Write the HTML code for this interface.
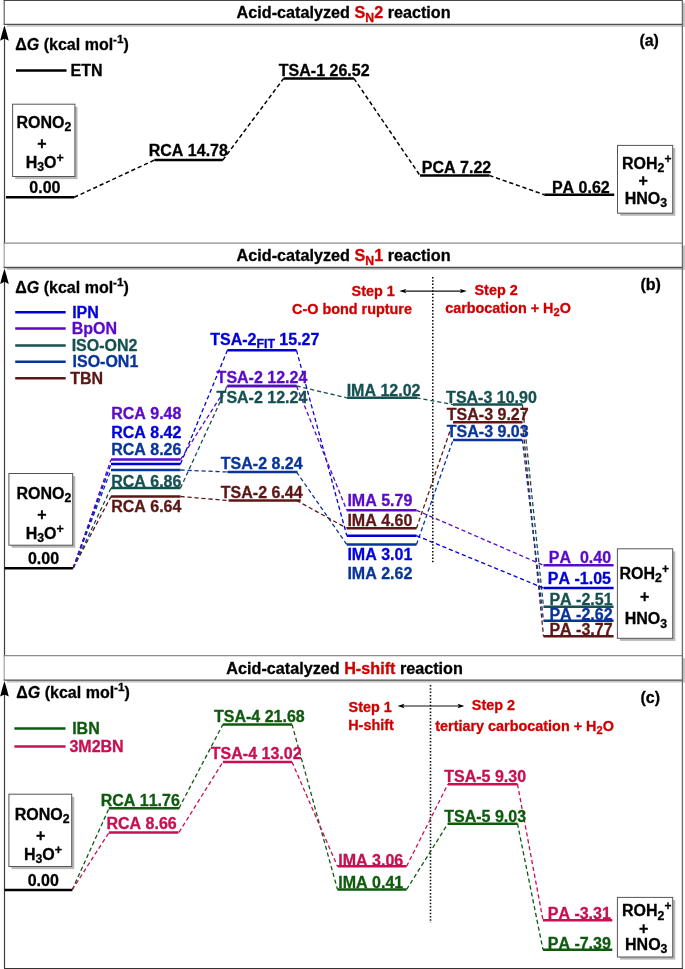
<!DOCTYPE html>
<html><head><meta charset="utf-8"><title>Acid-catalyzed reaction energy profiles</title>
<style>
html,body{margin:0;padding:0;background:#fff;}
body{width:685px;height:969px;overflow:hidden;}
svg{display:block;will-change:transform;}
svg text{font-family:"Liberation Sans",sans-serif;font-weight:bold;font-kerning:none;stroke-width:0.3px;stroke-linejoin:round;}
</style></head><body>
<svg width="685" height="969" viewBox="0 0 685 969">
<rect x="7" y="2.8" width="679" height="23.900000000000002" fill="#c4c4c4"/>
<rect x="4" y="0.4" width="678.4" height="23.900000000000002" fill="#fff"/>
<line x1="4.2" y1="0.4" x2="4.2" y2="24.3" stroke="#555" stroke-width="1.1"/>
<line x1="3.6" y1="0.4" x2="682.4" y2="0.4" stroke="#444" stroke-width="1.3"/>
<line x1="3.6" y1="24.3" x2="682.4" y2="24.3" stroke="#505050" stroke-width="1.3"/>
<text x="236.6" y="18.4" fill="#000" stroke="#000" font-size="16.2" text-anchor="start" >Acid-catalyzed <tspan fill="#d00000" stroke="#d00000">S<tspan font-size="12.3" dy="3.5">N</tspan><tspan dy="-3.5" font-size="16">&#8203;</tspan>2</tspan> reaction</text>
<line x1="4.5" y1="32.3" x2="4.5" y2="243.1" stroke="#3c3c3c" stroke-width="1.2"/>
<path d="M4.45 25.2 Q6.6 32.2 8.8 40.8 L4.45 38.6 L0.1 40.8 Q2.3 32.2 4.45 25.2 Z" fill="#000"/>
<text x="15.35" y="49.5" fill="#000" stroke="#000" font-size="16" text-anchor="start" >&#916;<tspan font-style="italic">G</tspan> (kcal mol<tspan font-size="11.8" dy="-7.0">-1</tspan><tspan dy="7.0" font-size="16">&#8203;</tspan>)</text>
<line x1="16" y1="70.4" x2="66.5" y2="70.4" stroke="#000" stroke-width="2.5"/>
<text x="70.53" y="76.3" fill="#000" stroke="#000" font-size="16" text-anchor="start" >ETN</text>
<rect x="15.2" y="106.8" width="62.300000000000004" height="72.3" fill="#b8b8b8"/>
<rect x="12.6" y="104.2" width="62.300000000000004" height="72.3" fill="#fff" stroke="#555" stroke-width="1"/>
<text x="16.43" y="127.9" fill="#000" stroke="#000" font-size="16" text-anchor="start" >RONO<tspan font-size="12.3" dy="3.5">2</tspan><tspan dy="-3.5" font-size="16">&#8203;</tspan></text>
<text x="42" y="149.3" fill="#000" stroke="#000" font-size="16" text-anchor="middle" >+</text>
<text x="25.63" y="167.9" fill="#000" stroke="#000" font-size="16" text-anchor="start" >H<tspan font-size="12.3" dy="3.5">3</tspan><tspan dy="-3.5" font-size="16">&#8203;</tspan>O<tspan font-size="12.5" dy="-6.0">+</tspan><tspan dy="6.0" font-size="16">&#8203;</tspan></text>
<text x="29.37" y="193.4" fill="#000" stroke="#000" font-size="16" text-anchor="start" >0.00</text>
<line x1="5.9" y1="197.3" x2="74.2" y2="197.3" stroke="#000" stroke-width="2.5"/>
<line x1="74.2" y1="197.3" x2="154.4" y2="160.1" stroke="#000" stroke-width="1.5" stroke-dasharray="4.2 2.8" stroke-dashoffset="0.00"/>
<line x1="154.4" y1="160.1" x2="222.8" y2="160.1" stroke="#000" stroke-width="2.5"/>
<text x="148.73" y="156.2" fill="#000" stroke="#000" font-size="16" text-anchor="start" >RCA 14.78</text>
<line x1="222.8" y1="160.1" x2="283.7" y2="78.4" stroke="#000" stroke-width="1.5" stroke-dasharray="4.2 2.8" stroke-dashoffset="0.00"/>
<line x1="283.7" y1="78.4" x2="353.9" y2="78.4" stroke="#000" stroke-width="2.5"/>
<text x="278.82" y="75.6" fill="#000" stroke="#000" font-size="16" text-anchor="start" >TSA-1 26.52</text>
<line x1="353.9" y1="78.4" x2="420" y2="175.5" stroke="#000" stroke-width="1.5" stroke-dasharray="4.2 2.8" stroke-dashoffset="0.00"/>
<line x1="420" y1="175.5" x2="489.4" y2="175.5" stroke="#000" stroke-width="2.5"/>
<text x="421.83" y="172.5" fill="#000" stroke="#000" font-size="16" text-anchor="start" >PCA 7.22</text>
<line x1="489.4" y1="175.5" x2="544.3" y2="194.7" stroke="#000" stroke-width="1.5" stroke-dasharray="4.2 2.8" stroke-dashoffset="0.00"/>
<line x1="544.3" y1="194.7" x2="614.2" y2="194.7" stroke="#000" stroke-width="2.5"/>
<text x="551.93" y="192.9" fill="#000" stroke="#000" font-size="16" text-anchor="start" >PA 0.62</text>
<rect x="620.1" y="148.0" width="55.200000000000045" height="67.79999999999998" fill="#b8b8b8"/>
<rect x="617.5" y="145.4" width="55.200000000000045" height="67.79999999999998" fill="#fff" stroke="#555" stroke-width="1"/>
<text x="622.03" y="168.6" fill="#000" stroke="#000" font-size="16" text-anchor="start" >ROH<tspan font-size="12.3" dy="3.5">2</tspan><tspan dy="-3.5" font-size="16">&#8203;</tspan><tspan font-size="12.0" dy="-6.0">+</tspan><tspan dy="6.0" font-size="16">&#8203;</tspan></text>
<text x="643.1" y="186.2" fill="#000" stroke="#000" font-size="16" text-anchor="middle" >+</text>
<text x="624.63" y="203.8" fill="#000" stroke="#000" font-size="16" text-anchor="start" >HNO<tspan font-size="12.3" dy="3.5">3</tspan><tspan dy="-3.5" font-size="16">&#8203;</tspan></text>
<text x="639.4" y="46.0" fill="#000" stroke="#000" font-size="16" text-anchor="start" >(a)</text>
<rect x="7" y="245.5" width="679" height="24.400000000000006" fill="#c4c4c4"/>
<rect x="4" y="243.1" width="678.4" height="24.400000000000006" fill="#fff"/>
<line x1="4.2" y1="243.1" x2="4.2" y2="267.5" stroke="#999" stroke-width="1.1"/>
<line x1="3.6" y1="243.1" x2="682.4" y2="243.1" stroke="#8c8c8c" stroke-width="1.3"/>
<line x1="3.6" y1="267.5" x2="682.4" y2="267.5" stroke="#505050" stroke-width="1.3"/>
<text x="236.6" y="261.4" fill="#000" stroke="#000" font-size="16.2" text-anchor="start" >Acid-catalyzed <tspan fill="#d00000" stroke="#d00000">S<tspan font-size="12.3" dy="3.5">N</tspan><tspan dy="-3.5" font-size="16">&#8203;</tspan>1</tspan> reaction</text>
<line x1="4.5" y1="275.5" x2="4.5" y2="655.7" stroke="#3c3c3c" stroke-width="1.2"/>
<path d="M4.45 268.4 Q6.6 275.4 8.8 284.0 L4.45 281.79999999999995 L0.1 284.0 Q2.3 275.4 4.45 268.4 Z" fill="#000"/>
<text x="15.35" y="292.9" fill="#000" stroke="#000" font-size="16" text-anchor="start" >&#916;<tspan font-style="italic">G</tspan> (kcal mol<tspan font-size="11.8" dy="-7.0">-1</tspan><tspan dy="7.0" font-size="16">&#8203;</tspan>)</text>
<line x1="15.2" y1="312.3" x2="65.7" y2="312.3" stroke="#0000dc" stroke-width="2.5"/>
<text x="72.13" y="317.7" fill="#0000dc" stroke="#0000dc" font-size="16" text-anchor="start" >IPN</text>
<line x1="15.2" y1="328.4" x2="65.7" y2="328.4" stroke="#5a0ac8" stroke-width="2.5"/>
<text x="71.63" y="334.3" fill="#5a0ac8" stroke="#5a0ac8" font-size="16" text-anchor="start" >BpON</text>
<line x1="15.2" y1="345.5" x2="65.7" y2="345.5" stroke="#165050" stroke-width="2.5"/>
<text x="71.63" y="351.0" fill="#165050" stroke="#165050" font-size="16" text-anchor="start" >ISO-ON2</text>
<line x1="15.2" y1="361.7" x2="65.7" y2="361.7" stroke="#08349b" stroke-width="2.5"/>
<text x="72.53" y="367.3" fill="#08349b" stroke="#08349b" font-size="16" text-anchor="start" >ISO-ON1</text>
<line x1="15.2" y1="378.3" x2="65.7" y2="378.3" stroke="#5c1616" stroke-width="2.5"/>
<text x="70.22" y="383.9" fill="#5c1616" stroke="#5c1616" font-size="16" text-anchor="start" >TBN</text>
<text x="394.8" y="296" fill="#d00000" stroke="#d00000" font-size="14.4" text-anchor="end" >Step 1</text>
<text x="352" y="313.8" fill="#d00000" stroke="#d00000" font-size="14.4" text-anchor="middle" >C-O bond rupture</text>
<line x1="402.2" y1="291.1" x2="463.9" y2="291.1" stroke="#111" stroke-width="1.1"/>
<path d="M399.2 291.1 L406.2 288.90000000000003 L404.7 291.1 L406.2 293.3 Z" fill="#000"/>
<path d="M466.9 291.1 L459.9 288.90000000000003 L461.4 291.1 L459.9 293.3 Z" fill="#000"/>
<line x1="432.8" y1="277" x2="432.8" y2="562.5" stroke="#111" stroke-width="1.6" stroke-dasharray="1.5 1.8"/>
<text x="474.49" y="294.9" fill="#d00000" stroke="#d00000" font-size="14.4" text-anchor="start" >Step 2</text>
<text x="508" y="312.6" fill="#d00000" stroke="#d00000" font-size="14.4" text-anchor="middle" >carbocation + H<tspan font-size="11.1" dy="3.5">2</tspan><tspan dy="-3.5" font-size="14.4">&#8203;</tspan>O</text>
<text x="640.5" y="290.3" fill="#000" stroke="#000" font-size="16" text-anchor="start" >(b)</text>
<line x1="73.2" y1="568" x2="111" y2="496.5" stroke="#5c1616" stroke-width="1.3" stroke-dasharray="4.2 2.8" stroke-dashoffset="0.00"/>
<line x1="180.5" y1="496.5" x2="227.4" y2="500.5" stroke="#5c1616" stroke-width="1.3" stroke-dasharray="4.2 2.8" stroke-dashoffset="0.00"/>
<line x1="296.5" y1="500.5" x2="346.8" y2="528.2" stroke="#5c1616" stroke-width="1.3" stroke-dasharray="4.2 2.8" stroke-dashoffset="0.00"/>
<line x1="416.5" y1="528.2" x2="453" y2="422.3" stroke="#5c1616" stroke-width="1.3" stroke-dasharray="4.2 2.8" stroke-dashoffset="0.00"/>
<line x1="522.4" y1="422.3" x2="543.5" y2="636.2" stroke="#5c1616" stroke-width="1.3" stroke-dasharray="4.2 2.8" stroke-dashoffset="3.79"/>
<line x1="73.2" y1="568" x2="111" y2="488.1" stroke="#165050" stroke-width="1.3" stroke-dasharray="4.2 2.8" stroke-dashoffset="0.00"/>
<line x1="180.5" y1="488.1" x2="227.4" y2="386" stroke="#165050" stroke-width="1.3" stroke-dasharray="4.2 2.8" stroke-dashoffset="0.00"/>
<line x1="296.5" y1="386" x2="346.8" y2="397.8" stroke="#165050" stroke-width="1.3" stroke-dasharray="4.2 2.8" stroke-dashoffset="0.00"/>
<line x1="416.5" y1="397.8" x2="453" y2="404.6" stroke="#165050" stroke-width="1.3" stroke-dasharray="4.2 2.8" stroke-dashoffset="0.00"/>
<line x1="522.4" y1="404.6" x2="543.5" y2="606.8" stroke="#165050" stroke-width="1.3" stroke-dasharray="4.2 2.8" stroke-dashoffset="0.00"/>
<line x1="73.2" y1="568" x2="111" y2="470" stroke="#08349b" stroke-width="1.3" stroke-dasharray="4.2 2.8" stroke-dashoffset="0.00"/>
<line x1="180.5" y1="470" x2="227.4" y2="472.0" stroke="#08349b" stroke-width="1.3" stroke-dasharray="4.2 2.8" stroke-dashoffset="0.00"/>
<line x1="296.5" y1="472.0" x2="346.8" y2="544.5" stroke="#08349b" stroke-width="1.3" stroke-dasharray="4.2 2.8" stroke-dashoffset="0.00"/>
<line x1="416.5" y1="544.5" x2="453" y2="440.1" stroke="#08349b" stroke-width="1.3" stroke-dasharray="4.2 2.8" stroke-dashoffset="0.00"/>
<line x1="522.4" y1="440.1" x2="543.5" y2="620.7" stroke="#08349b" stroke-width="1.3" stroke-dasharray="4.2 2.8" stroke-dashoffset="0.68"/>
<line x1="73.2" y1="568" x2="111" y2="464" stroke="#0000dc" stroke-width="1.3" stroke-dasharray="4.2 2.8" stroke-dashoffset="0.00"/>
<line x1="180.5" y1="464" x2="227.4" y2="350.3" stroke="#0000dc" stroke-width="1.3" stroke-dasharray="4.2 2.8" stroke-dashoffset="0.00"/>
<line x1="296.5" y1="350.3" x2="346.8" y2="535.7" stroke="#0000dc" stroke-width="1.3" stroke-dasharray="4.2 2.8" stroke-dashoffset="0.00"/>
<line x1="416.5" y1="535.7" x2="543.5" y2="588.0" stroke="#0000dc" stroke-width="1.3" stroke-dasharray="4.2 2.8" stroke-dashoffset="0.00"/>
<line x1="73.2" y1="568" x2="111" y2="459.6" stroke="#5a0ac8" stroke-width="1.3" stroke-dasharray="4.2 2.8" stroke-dashoffset="0.00"/>
<line x1="180.5" y1="459.6" x2="227.4" y2="386" stroke="#5a0ac8" stroke-width="1.3" stroke-dasharray="4.2 2.8" stroke-dashoffset="0.00"/>
<line x1="296.5" y1="386" x2="346.8" y2="510.3" stroke="#5a0ac8" stroke-width="1.3" stroke-dasharray="4.2 2.8" stroke-dashoffset="0.00"/>
<line x1="416.5" y1="510.3" x2="543.5" y2="565.3" stroke="#5a0ac8" stroke-width="1.3" stroke-dasharray="4.2 2.8" stroke-dashoffset="0.00"/>
<line x1="4.6" y1="568.2" x2="72.9" y2="568.2" stroke="#000" stroke-width="2.5"/>
<line x1="111" y1="459.6" x2="180.5" y2="459.6" stroke="#5a0ac8" stroke-width="2.5"/>
<line x1="111" y1="464" x2="180.5" y2="464" stroke="#0000dc" stroke-width="2.5"/>
<line x1="111" y1="470" x2="180.5" y2="470" stroke="#08349b" stroke-width="2.5"/>
<line x1="111" y1="488.1" x2="180.5" y2="488.1" stroke="#165050" stroke-width="2.5"/>
<line x1="111" y1="496.5" x2="180.5" y2="496.5" stroke="#5c1616" stroke-width="2.5"/>
<line x1="227.4" y1="350.3" x2="296.5" y2="350.3" stroke="#0000dc" stroke-width="2.5"/>
<line x1="227.4" y1="386" x2="296.5" y2="386" stroke="#165050" stroke-width="2.5"/>
<line x1="227.4" y1="386" x2="296.5" y2="386" stroke="#5a0ac8" stroke-width="2.5"/>
<line x1="227.4" y1="472.0" x2="297.5" y2="472.0" stroke="#08349b" stroke-width="2.5"/>
<line x1="228.6" y1="500.5" x2="300.7" y2="500.5" stroke="#5c1616" stroke-width="2.5"/>
<line x1="347" y1="397.8" x2="417.2" y2="397.8" stroke="#165050" stroke-width="2.5"/>
<line x1="346.8" y1="510.3" x2="416.5" y2="510.3" stroke="#5a0ac8" stroke-width="2.5"/>
<line x1="346.8" y1="528.2" x2="416.5" y2="528.2" stroke="#5c1616" stroke-width="2.5"/>
<line x1="346.8" y1="535.7" x2="416.5" y2="535.7" stroke="#0000dc" stroke-width="2.5"/>
<line x1="346.8" y1="544.5" x2="416.5" y2="544.5" stroke="#08349b" stroke-width="2.5"/>
<line x1="453" y1="404.6" x2="522.4" y2="404.6" stroke="#165050" stroke-width="2.5"/>
<line x1="453" y1="422.3" x2="522.4" y2="422.3" stroke="#5c1616" stroke-width="2.5"/>
<line x1="453" y1="440.1" x2="522.4" y2="440.1" stroke="#08349b" stroke-width="2.5"/>
<line x1="543.5" y1="565.3" x2="613.6" y2="565.3" stroke="#5a0ac8" stroke-width="2.5"/>
<line x1="543.5" y1="588.0" x2="613.6" y2="588.0" stroke="#0000dc" stroke-width="2.5"/>
<line x1="543.5" y1="606.8" x2="613.6" y2="606.8" stroke="#165050" stroke-width="2.5"/>
<line x1="543.5" y1="620.7" x2="613.6" y2="620.7" stroke="#08349b" stroke-width="2.5"/>
<line x1="543.5" y1="636.2" x2="613.6" y2="636.2" stroke="#5c1616" stroke-width="2.5"/>
<text x="111.13" y="419.3" fill="#5a0ac8" stroke="#5a0ac8" font-size="16" text-anchor="start" >RCA 9.48</text>
<text x="111.13" y="437.8" fill="#0000dc" stroke="#0000dc" font-size="16" text-anchor="start" >RCA 8.42</text>
<text x="111.13" y="454.6" fill="#08349b" stroke="#08349b" font-size="16" text-anchor="start" >RCA 8.26</text>
<text x="111.13" y="487.1" fill="#165050" stroke="#165050" font-size="16" text-anchor="start" >RCA 6.86</text>
<text x="111.13" y="512.3" fill="#5c1616" stroke="#5c1616" font-size="16" text-anchor="start" >RCA 6.64</text>
<text x="210.22" y="344.9" fill="#0000dc" stroke="#0000dc" font-size="16" text-anchor="start" >TSA-2<tspan font-size="12.3" dy="3.5">FIT</tspan><tspan dy="-3.5" font-size="16">&#8203;</tspan> 15.27</text>
<text x="216.62" y="382.9" fill="#5a0ac8" stroke="#5a0ac8" font-size="16" text-anchor="start" >TSA-2 12.24</text>
<text x="216.62" y="403.0" fill="#165050" stroke="#165050" font-size="16" text-anchor="start" >TSA-2 12.24</text>
<text x="220.82" y="469.3" fill="#08349b" stroke="#08349b" font-size="16" text-anchor="start" >TSA-2 8.24</text>
<text x="220.82" y="497.7" fill="#5c1616" stroke="#5c1616" font-size="16" text-anchor="start" >TSA-2 6.44</text>
<text x="346.63" y="396.2" fill="#165050" stroke="#165050" font-size="16" text-anchor="start" >IMA 12.02</text>
<text x="347.43" y="506.1" fill="#5a0ac8" stroke="#5a0ac8" font-size="16" text-anchor="start" >IMA 5.79</text>
<text x="347.43" y="526.2" fill="#5c1616" stroke="#5c1616" font-size="16" text-anchor="start" >IMA 4.60</text>
<text x="347.43" y="560.4" fill="#0000dc" stroke="#0000dc" font-size="16" text-anchor="start" >IMA 3.01</text>
<text x="347.43" y="579.0" fill="#08349b" stroke="#08349b" font-size="16" text-anchor="start" >IMA 2.62</text>
<text x="446.12" y="402.7" fill="#165050" stroke="#165050" font-size="16" text-anchor="start" >TSA-3 10.90</text>
<text x="446.82" y="420.1" fill="#5c1616" stroke="#5c1616" font-size="16" text-anchor="start" >TSA-3 9.27</text>
<text x="446.82" y="437.2" fill="#08349b" stroke="#08349b" font-size="16" text-anchor="start" >TSA-3 9.03</text>
<text x="548.83" y="562.7" fill="#5a0ac8" stroke="#5a0ac8" font-size="16" text-anchor="start" >PA&#160; 0.40</text>
<text x="547.83" y="583.9" fill="#0000dc" stroke="#0000dc" font-size="16" text-anchor="start" >PA -1.05</text>
<text x="549.43" y="604.9" fill="#165050" stroke="#165050" font-size="16" text-anchor="start" >PA -2.51</text>
<text x="549.43" y="620.1" fill="#08349b" stroke="#08349b" font-size="16" text-anchor="start" >PA -2.62</text>
<text x="549.43" y="635.1" fill="#5c1616" stroke="#5c1616" font-size="16" text-anchor="start" >PA -3.77</text>
<rect x="11.5" y="476.1" width="63.800000000000004" height="71.70000000000005" fill="#b8b8b8"/>
<rect x="8.9" y="473.5" width="63.800000000000004" height="71.70000000000005" fill="#fff" stroke="#555" stroke-width="1"/>
<text x="16.43" y="498.5" fill="#000" stroke="#000" font-size="16" text-anchor="start" >RONO<tspan font-size="12.3" dy="3.5">2</tspan><tspan dy="-3.5" font-size="16">&#8203;</tspan></text>
<text x="42" y="520" fill="#000" stroke="#000" font-size="16" text-anchor="middle" >+</text>
<text x="25.63" y="538.6" fill="#000" stroke="#000" font-size="16" text-anchor="start" >H<tspan font-size="12.3" dy="3.5">3</tspan><tspan dy="-3.5" font-size="16">&#8203;</tspan>O<tspan font-size="12.5" dy="-6.0">+</tspan><tspan dy="6.0" font-size="16">&#8203;</tspan></text>
<text x="27.97" y="564" fill="#000" stroke="#000" font-size="16" text-anchor="start" >0.00</text>
<rect x="620.0" y="551.4" width="55.30000000000007" height="89.5" fill="#b8b8b8"/>
<rect x="617.4" y="548.8" width="55.30000000000007" height="89.5" fill="#fff" stroke="#555" stroke-width="1"/>
<text x="619.53" y="578.5" fill="#000" stroke="#000" font-size="16" text-anchor="start" >ROH<tspan font-size="12.3" dy="3.5">2</tspan><tspan dy="-3.5" font-size="16">&#8203;</tspan><tspan font-size="12.0" dy="-6.0">+</tspan><tspan dy="6.0" font-size="16">&#8203;</tspan></text>
<text x="644.7" y="602" fill="#000" stroke="#000" font-size="16" text-anchor="middle" >+</text>
<text x="624.63" y="624.1" fill="#000" stroke="#000" font-size="16" text-anchor="start" >HNO<tspan font-size="12.3" dy="3.5">3</tspan><tspan dy="-3.5" font-size="16">&#8203;</tspan></text>
<rect x="7" y="658.1" width="679" height="24.399999999999977" fill="#c4c4c4"/>
<rect x="4" y="655.7" width="678.4" height="24.399999999999977" fill="#fff"/>
<line x1="4.2" y1="655.7" x2="4.2" y2="680.1" stroke="#999" stroke-width="1.1"/>
<line x1="3.6" y1="655.7" x2="682.4" y2="655.7" stroke="#8c8c8c" stroke-width="1.3"/>
<line x1="3.6" y1="680.1" x2="682.4" y2="680.1" stroke="#505050" stroke-width="1.3"/>
<text x="226.3" y="674.2" fill="#000" stroke="#000" font-size="16.2" text-anchor="start" >Acid-catalyzed <tspan fill="#d00000" stroke="#d00000">H-shift</tspan> reaction</text>
<line x1="4.5" y1="688.1" x2="4.5" y2="968" stroke="#3c3c3c" stroke-width="1.2"/>
<path d="M4.45 681.0 Q6.6 688.0 8.8 696.6 L4.45 694.4 L0.1 696.6 Q2.3 688.0 4.45 681.0 Z" fill="#000"/>
<text x="16.35" y="698.1" fill="#000" stroke="#000" font-size="16" text-anchor="start" >&#916;<tspan font-style="italic">G</tspan> (kcal mol<tspan font-size="11.8" dy="-7.0">-1</tspan><tspan dy="7.0" font-size="16">&#8203;</tspan>)</text>
<line x1="14.4" y1="728.5" x2="65.5" y2="728.5" stroke="#0e5a0e" stroke-width="2.5"/>
<text x="72.13" y="734.3" fill="#0e5a0e" stroke="#0e5a0e" font-size="16" text-anchor="start" >IBN</text>
<line x1="14.4" y1="746.5" x2="65.5" y2="746.5" stroke="#c80f52" stroke-width="2.5"/>
<text x="69.43" y="751.7" fill="#c80f52" stroke="#c80f52" font-size="16" text-anchor="start" >3M2BN</text>
<text x="391.8" y="712.2" fill="#d00000" stroke="#d00000" font-size="14.4" text-anchor="end" >Step 1</text>
<text x="371" y="729.7" fill="#d00000" stroke="#d00000" font-size="14.4" text-anchor="middle" >H-shift</text>
<line x1="400.5" y1="706" x2="461.5" y2="706" stroke="#111" stroke-width="1.1"/>
<path d="M397.5 706 L404.5 703.8 L403.0 706 L404.5 708.2 Z" fill="#000"/>
<path d="M464.5 706 L457.5 703.8 L459.0 706 L457.5 708.2 Z" fill="#000"/>
<line x1="430.5" y1="685" x2="430.5" y2="922.7" stroke="#111" stroke-width="1.6" stroke-dasharray="1.5 1.8"/>
<text x="471.79" y="710" fill="#d00000" stroke="#d00000" font-size="14.4" text-anchor="start" >Step 2</text>
<text x="435.32" y="730.8" fill="#d00000" stroke="#d00000" font-size="14.4" text-anchor="start" >tertiary carbocation + H<tspan font-size="11.1" dy="3.5">2</tspan><tspan dy="-3.5" font-size="14.4">&#8203;</tspan>O</text>
<text x="640.5" y="703.1" fill="#000" stroke="#000" font-size="16" text-anchor="start" >(c)</text>
<line x1="72.2" y1="889.8" x2="109.1" y2="808.2" stroke="#0e5a0e" stroke-width="1.3" stroke-dasharray="4.2 2.8" stroke-dashoffset="0.00"/>
<line x1="179" y1="808.2" x2="222.9" y2="724.4" stroke="#0e5a0e" stroke-width="1.3" stroke-dasharray="4.2 2.8" stroke-dashoffset="0.00"/>
<line x1="292" y1="724.4" x2="337.5" y2="889.5" stroke="#0e5a0e" stroke-width="1.3" stroke-dasharray="4.2 2.8" stroke-dashoffset="0.00"/>
<line x1="406.6" y1="889.5" x2="447.9" y2="823.7" stroke="#0e5a0e" stroke-width="1.3" stroke-dasharray="4.2 2.8" stroke-dashoffset="0.00"/>
<line x1="517.5" y1="823.7" x2="543" y2="949.7" stroke="#0e5a0e" stroke-width="1.3" stroke-dasharray="4.2 2.8" stroke-dashoffset="0.00"/>
<line x1="108.8" y1="808.2" x2="179.3" y2="808.2" stroke="#0e5a0e" stroke-width="2.5"/>
<line x1="222.9" y1="724.4" x2="292" y2="724.4" stroke="#0e5a0e" stroke-width="2.5"/>
<line x1="337.5" y1="889.5" x2="406.6" y2="889.5" stroke="#0e5a0e" stroke-width="2.5"/>
<line x1="447.9" y1="823.7" x2="517.5" y2="823.7" stroke="#0e5a0e" stroke-width="2.5"/>
<line x1="543" y1="949.7" x2="612.3" y2="949.7" stroke="#0e5a0e" stroke-width="2.5"/>
<line x1="72.2" y1="889.8" x2="109.1" y2="832.4" stroke="#c80f52" stroke-width="1.3" stroke-dasharray="4.2 2.8" stroke-dashoffset="0.00"/>
<line x1="179" y1="832.4" x2="222.9" y2="762" stroke="#c80f52" stroke-width="1.3" stroke-dasharray="4.2 2.8" stroke-dashoffset="0.00"/>
<line x1="292" y1="762" x2="337.5" y2="866.3" stroke="#c80f52" stroke-width="1.3" stroke-dasharray="4.2 2.8" stroke-dashoffset="0.00"/>
<line x1="406.6" y1="866.3" x2="447.9" y2="784.2" stroke="#c80f52" stroke-width="1.3" stroke-dasharray="4.2 2.8" stroke-dashoffset="0.00"/>
<line x1="517.5" y1="784.2" x2="543" y2="920.2" stroke="#c80f52" stroke-width="1.3" stroke-dasharray="4.2 2.8" stroke-dashoffset="0.00"/>
<line x1="108.8" y1="832.4" x2="178.5" y2="832.4" stroke="#c80f52" stroke-width="2.5"/>
<line x1="222.9" y1="762" x2="292" y2="762" stroke="#c80f52" stroke-width="2.5"/>
<line x1="337.5" y1="866.3" x2="406.6" y2="866.3" stroke="#c80f52" stroke-width="2.5"/>
<line x1="447.9" y1="784.2" x2="517.5" y2="784.2" stroke="#c80f52" stroke-width="2.5"/>
<line x1="543" y1="920.2" x2="612.3" y2="920.2" stroke="#c80f52" stroke-width="2.5"/>
<line x1="4.6" y1="890.1" x2="72.3" y2="890.1" stroke="#000" stroke-width="2.5"/>
<text x="100.63" y="805.9" fill="#0e5a0e" stroke="#0e5a0e" font-size="16" text-anchor="start" >RCA 11.76</text>
<text x="106.43" y="828.7" fill="#c80f52" stroke="#c80f52" font-size="16" text-anchor="start" >RCA 8.66</text>
<text x="214.02" y="722.0" fill="#0e5a0e" stroke="#0e5a0e" font-size="16" text-anchor="start" >TSA-4 21.68</text>
<text x="210.82" y="758.5" fill="#c80f52" stroke="#c80f52" font-size="16" text-anchor="start" >TSA-4 13.02</text>
<text x="338.33" y="865.5" fill="#c80f52" stroke="#c80f52" font-size="16" text-anchor="start" >IMA 3.06</text>
<text x="338.33" y="887.9" fill="#0e5a0e" stroke="#0e5a0e" font-size="16" text-anchor="start" >IMA 0.41</text>
<text x="444.22" y="782.2" fill="#c80f52" stroke="#c80f52" font-size="16" text-anchor="start" >TSA-5 9.30</text>
<text x="444.22" y="821.7" fill="#0e5a0e" stroke="#0e5a0e" font-size="16" text-anchor="start" >TSA-5 9.03</text>
<text x="547.73" y="919.1" fill="#c80f52" stroke="#c80f52" font-size="16" text-anchor="start" >PA -3.31</text>
<text x="547.73" y="948.5" fill="#0e5a0e" stroke="#0e5a0e" font-size="16" text-anchor="start" >PA -7.39</text>
<rect x="11.5" y="796.8000000000001" width="62.800000000000004" height="72.29999999999995" fill="#b8b8b8"/>
<rect x="8.9" y="794.2" width="62.800000000000004" height="72.29999999999995" fill="#fff" stroke="#555" stroke-width="1"/>
<text x="14.73" y="819.9" fill="#000" stroke="#000" font-size="16" text-anchor="start" >RONO<tspan font-size="12.3" dy="3.5">2</tspan><tspan dy="-3.5" font-size="16">&#8203;</tspan></text>
<text x="40.7" y="840.6" fill="#000" stroke="#000" font-size="16" text-anchor="middle" >+</text>
<text x="23.93" y="859.9" fill="#000" stroke="#000" font-size="16" text-anchor="start" >H<tspan font-size="12.3" dy="3.5">3</tspan><tspan dy="-3.5" font-size="16">&#8203;</tspan>O<tspan font-size="12.5" dy="-6.0">+</tspan><tspan dy="6.0" font-size="16">&#8203;</tspan></text>
<text x="27.67" y="886.2" fill="#000" stroke="#000" font-size="16" text-anchor="start" >0.00</text>
<rect x="620.0" y="900.0" width="55.30000000000007" height="59.60000000000002" fill="#b8b8b8"/>
<rect x="617.4" y="897.4" width="55.30000000000007" height="59.60000000000002" fill="#fff" stroke="#555" stroke-width="1"/>
<text x="622.03" y="916.3" fill="#000" stroke="#000" font-size="16" text-anchor="start" >ROH<tspan font-size="12.3" dy="3.5">2</tspan><tspan dy="-3.5" font-size="16">&#8203;</tspan><tspan font-size="12.0" dy="-6.0">+</tspan><tspan dy="6.0" font-size="16">&#8203;</tspan></text>
<text x="643.6" y="933.6" fill="#000" stroke="#000" font-size="16" text-anchor="middle" >+</text>
<text x="625.03" y="949.7" fill="#000" stroke="#000" font-size="16" text-anchor="start" >HNO<tspan font-size="12.3" dy="3.5">3</tspan><tspan dy="-3.5" font-size="16">&#8203;</tspan></text>
<line x1="682.4" y1="0" x2="682.4" y2="969" stroke="#6a6a6a" stroke-width="1.3"/>
<line x1="4" y1="968.7" x2="683" y2="968.7" stroke="#333" stroke-width="1.3"/>
</svg>
</body></html>
